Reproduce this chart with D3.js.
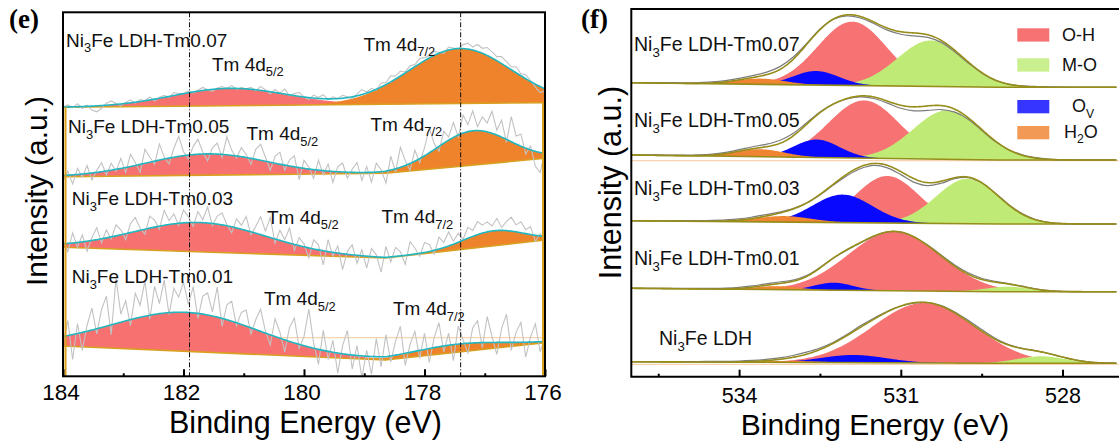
<!DOCTYPE html>
<html>
<head>
<meta charset="utf-8">
<script src="https://cdn.jsdelivr.net/npm/d3@7"></script>
<style>
  html, body { margin: 0; padding: 0; background: #fff; }
  svg { display: block; font-family: "Liberation Sans", Arial, sans-serif; }
</style>
</head>
<body>
<svg id="chart" width="1119" height="445"></svg>
<script>
// ---------------- Panel (e): Tm 4d XPS ----------------
const eNames = ["Ni_3Fe LDH-Tm0.07", "Ni_3Fe LDH-Tm0.05", "Ni_3Fe LDH-Tm0.03", "Ni_3Fe LDH-Tm0.01"];
const eTicks = [184, 182, 180, 178, 176];
const eMinorTicks = [183, 181, 179, 177];
const eRefLines = [181.9, 177.4];
// background anchors (eV) and background level of each stacked spectrum (a.u.)
const eBaseNodes = [184, 178.65, 176];
const eBaseline = [[269, 272, 273.6], [199.6, 203, 218], [129, 118.3, 136.3], [30.3, 16.3, 33.6]];
// fitted Tm 4d5/2 and 4d7/2 components: centre (eV), height (a.u.), sigma (eV)
const e52Center = [181.23, 181.61, 181.73, 181.96];
const e52Height = [17.4, 21.3, 29.3, 39];
const e52Sigma = [0.95, 1.0, 1.1, 1.22];
const e72Center = [177.41, 177.19, 176.85, 177.45];
const e72Height = [55, 34.3, 15, 8];
const e72Sigma = [0.85, 0.6, 0.5, 0.75];
// measured counts, given as residuals from the fit, every 0.08 eV from 184 to 176 eV
const eRawStep = 0.08;
const eResidual = [
  [0, 2, -1, 3, -2, 1, -4, -6, -3, 2, 4, 1, -2,
   1, 3, -1, 2, 0, 3, -2, 1, 2, -1, 3, 1, 0,
   2, -1, 1, 3, 0, -2, 1, 2, 0, 3, -1, 1,
   0, 2, -1, 4, 1, -2, 3, 0, 5, -1, 2, 4, 0,
   -2, 3, 1, 4, -1, 2, 0, 3, 1, -2, 2, 5,
   1, 3, -1, 4, 2, 6, 3, 5, 1, 4, 2, 5, 3,
   2, 4, 1, -2, 3, 1, 0, 4, 6, 3, 7, 5,
   8, 6, 4, 7, 5, 3, 6, 2, 4, 1, -3, -6, -2],
  [-6, 4, -9, 6, -3, 8, -7, 2, 9, -4, 7, -2, 10,
   -5, 12, 3, -8, 14, 5, -3, 16, 2, -6, 9, 20, 4,
   -4, 8, 15, 2, -7, 6, 11, -3, 18, 5, -2, 9,
   3, -6, 10, 16, 4, -8, 7, 12, -5, 6, 11, -12, 8,
   2, -9, 10, -4, 7, -11, 5, 9, -6, 3, 10, -8,
   6, -10, 9, 2, -12, 14, -3, 20, 5, -7, 11, -4, 8,
   25, 6, -5, 12, 3, 15, -2, 18, 7, 20, 4, 14,
   9, 22, 5, 17, -3, 25, 8, 12, -6, 4, -15, -20, 3],
  [4, -8, 10, -5, 7, -10, 3, 12, -4, 8, -2, 11, 5,
   -6, 9, 14, 2, -5, 12, 7, -3, 15, 4, 10, -2, 13,
   6, -4, 11, 3, 16, -2, 8, 12, 1, -6, 9, 4,
   14, -3, 7, 18, 5, 20, -4, 10, 2, 15, -6, 8, 3,
   -10, 9, 5, -14, 12, -4, 7, -16, 3, 10, -8, 6,
   -12, 8, 2, -15, 11, -5, 9, 4, -9, 13, 6, -3, 10,
   7, -4, 12, 5, 14, 3, 9, 1, 11, 6, 13, 8,
   10, 5, 12, 3, 9, 14, 7, 11, 4, 8, -6, 2, -4],
  [-8, 15, -25, 10, -18, 6, 22, -5, 18, 30, -10, 45, 8,
   20, -6, 25, 12, 35, -4, 28, 10, 33, -2, 24, 15, 30,
   8, 26, -5, 18, 22, 4, 30, -8, 15, 20, -3, 12,
   16, -6, 10, 22, 2, -10, 18, 6, -12, 14, 25, -4, 9,
   38, 5, -15, 20, -8, 12, -20, 8, 24, -14, 10, -22,
   6, -18, 18, -10, 22, -6, 14, 28, -12, 8, 20, -8, 16,
   -14, 10, 24, -6, 12, -16, 18, 4, -10, 15, 22, -5,
   26, 6, -12, 14, 28, -8, 10, 20, -15, 5, 18, -10, 4]
];
const ePeakNames = ["Tm 4d_{5/2}", "Tm 4d_{7/2}"];
const eGuideLevel = [38.6];

// ---------------- Panel (f): O 1s XPS ----------------
const fNames = ["Ni_3Fe LDH-Tm0.07", "Ni_3Fe LDH-Tm0.05", "Ni_3Fe LDH-Tm0.03", "Ni_3Fe LDH-Tm0.01", "Ni_3Fe LDH"];
const fTicks = [534, 531, 528];
const fMinorTicks = [535.5, 532.5, 529.5];
const fBaseNodes = [536, 529.2, 527];
const fBaseline = [[294, 289.4, 289.4], [221.7, 216.7, 216.7], [156, 152.7, 152.7], [88.4, 85, 85], [15, 13.4, 13.4]];
const ohCenter = [531.90, 531.68, 531.25, 531.12, 530.57];
const ohHeight = [63.8, 57.7, 47, 59.3, 60];
const ohSigma = [0.64, 0.66, 0.58, 0.85, 0.95];
const moCenter = [530.44, 530.13, 529.76, 529.02, 528.4];
const moHeight = [46, 49, 45, 5, 7];
const moSigma = [0.62, 0.64, 0.58, 0.4, 0.45];
const ovCenter = [532.57, 532.56, 532.08, 532.24, 531.87];
const ovHeight = [14, 18, 28, 7.5, 7.7];
const ovSigma = [0.42, 0.42, 0.55, 0.35, 0.6];
const h2oCenter = [533.6, 533.61, 533.17, 533.29, 533.0];
const h2oHeight = [5.7, 7.5, 6, 3.5, 1.5];
const h2oSigma = [0.45, 0.45, 0.5, 0.4, 0.5];
// measured O 1s counts as residuals from the fit, every 0.25 eV from 536 to 527 eV
const fRawStep = 0.25;
const fResidual = [
  [0, 0.3, 0.5, 0.5, 0.6, 0.8, 1, 1.2, 1.5, 2, 2.5, 2.8, 2.2, 1, 0.5, 0, -1, -1.5, -1.5, -2, -2.5, -3, -2.5, -2, -1.5, -1, -0.5, -0.3, 0, 0.3, 0.5, 0.3, 0.2, 0, 0, 0, 0],
  [0, 0.2, 0.4, 0.5, 0.6, 0.8, 1, 1.2, 1.5, 2, 2.5, 3, 2.5, 1.5, 0.8, 0, -0.5, -1, -1.5, -2, -3, -4, -4.5, -4, -3, -1.5, -1, -0.5, 0, 0.5, 0.5, 0.3, 0, 0, 0, 0, 0],
  [0, 0, 0.2, 0.3, 0.5, 0.6, 0.8, 1, 1.2, 1.5, 1.5, 1, 0.5, 0, -0.5, -1, -1.5, -2, -2, -2.5, -3, -3.5, -3, -2, -1, -0.5, 0, 0.3, 0.5, 0.5, 0.3, 0, 0, 0, 0, 0, 0],
  [0, 0, 0.2, 0.3, 0.4, 0.5, 0.6, 0.8, 1, 1.2, 1.5, 1.5, 1.2, 1, 0.5, 0, -0.5, -0.5, -0.3, 0, 0, 0, 0.5, 1, 1.2, 1.5, 1.2, 0.8, 0.5, 0.3, 0.2, 0, 0, 0, 0, 0, 0],
  [0, 0, 0.2, 0.3, 0.4, 0.5, 0.6, 0.7, 0.8, 1, 1.2, 1.5, 1.8, 2, 1.5, 1, 1, 1.5, 1, 0.5, 0, -0.5, 0, 0.5, 1, 1.5, 1.5, 1, 0.5, 0.3, 0.2, 0, 0, 0, 0, 0, 0]
];
const fLegendNames = ["O-H", "M-O", "O_V", "H_2O"];
const fGuideLevel = [216, 12.4];

// ---------------- styling ----------------
const C = {
  ePink: "#f77171", eOrange: "#ee832c", eFit: "#22b6bf", eBase: "#d9a020", eRaw: "#c2c2c2",
  oh: "#f77272", mo: "#c0ea76", ov: "#0808ff", h2o: "#ef8432",
  legOh: "#f77272", legMo: "#c9ef8e", legOv: "#3535ff", legH2o: "#f29a55",
  fFit: "#968d1b", fRaw: "#7c7c7c", guide: "#f7d3b0"
};

const svg = d3.select("#chart");
const gauss = (E, c, h, s) => h * Math.exp(-((E - c) * (E - c)) / (2 * s * s));
// straight-line background between anchor energies
function background(nodes, vals, E) {
  for (let i = 0; i < nodes.length - 1; i++) {
    const a = nodes[i], b = nodes[i + 1];
    if (E <= a && E >= b) return vals[i] + (vals[i + 1] - vals[i]) * (a - E) / (a - b);
  }
  return E > nodes[0] ? vals[0] : vals[vals.length - 1];
}
// text with "_x" / "_{..}" subscripts
function richText(sel, str, size) {
  const re = /_\{([^}]*)\}|_(.)/g;
  const subSize = size * 0.68, shift = size * 0.3;
  let last = 0, m, shifted = false;
  sel.attr("font-size", size);
  while ((m = re.exec(str))) {
    if (m.index > last) {
      sel.append("tspan").attr("dy", shifted ? -shift : 0).text(str.slice(last, m.index));
      shifted = false;
    }
    sel.append("tspan").attr("font-size", subSize).attr("dy", shifted ? 0 : shift).text(m[1] || m[2]);
    shifted = true;
    last = re.lastIndex;
  }
  if (last < str.length) sel.append("tspan").attr("dy", shifted ? -shift : 0).text(str.slice(last));
}

// ================= Panel (e) =================
const ex = d3.scaleLinear().domain([184, 176]).range([63, 545]);
const ey = d3.scaleLinear().domain([0, 364]).range([376.3, 12.3]);
svg.append("clipPath").attr("id", "eclip").append("rect")
  .attr("x", ex(184)).attr("y", ey(364)).attr("width", ex(176) - ex(184)).attr("height", ey(0) - ey(364));
const eg = svg.append("g").attr("clip-path", "url(#eclip)");
const eGrid = d3.range(0, 401).map(i => 184 - i * 0.02);

eGuideLevel.forEach(v => {
  eg.append("line").attr("x1", ex(184)).attr("x2", ex(176)).attr("y1", ey(v)).attr("y2", ey(v))
    .attr("stroke", C.guide).attr("stroke-width", 1.2);
});

eNames.forEach((name, s) => {
  const base = E => background(eBaseNodes, eBaseline[s], E);
  const p52 = E => gauss(E, e52Center[s], e52Height[s], e52Sigma[s]);
  const p72 = E => gauss(E, e72Center[s], e72Height[s], e72Sigma[s]);
  const comp = (fn, color) => eg.append("path").datum(eGrid)
    .attr("d", d3.area().x(E => ex(E)).y0(E => ey(base(E))).y1(E => ey(base(E) + fn(E))))
    .attr("fill", color);
  comp(p52, C.ePink);
  comp(p72, C.eOrange);
  eg.append("path").datum(eBaseNodes)
    .attr("d", d3.line().x(E => ex(E)).y((E, i) => ey(eBaseline[s][i])))
    .attr("fill", "none").attr("stroke", C.eBase).attr("stroke-width", 1.6);
  const raw = eResidual[s].map((r, i) => {
    const E = 184 - i * eRawStep;
    return [E, base(E) + p52(E) + p72(E) + r];
  });
  eg.append("path").datum(raw)
    .attr("d", d3.line().x(d => ex(d[0])).y(d => ey(d[1])))
    .attr("fill", "none").attr("stroke", C.eRaw).attr("stroke-width", 1.1);
  eg.append("path").datum(eGrid)
    .attr("d", d3.line().x(E => ex(E)).y(E => ey(base(E) + p52(E) + p72(E))))
    .attr("fill", "none").attr("stroke", C.eFit).attr("stroke-width", 1.6);
});

// side edges of the stacked backgrounds
eg.append("line").attr("x1", ex(184) + 2.5).attr("x2", ex(184) + 2.5)
  .attr("y1", ey(eBaseline[0][0])).attr("y2", ey(0))
  .attr("stroke", C.eBase).attr("stroke-width", 2);
eg.append("line").attr("x1", ex(176) - 2).attr("x2", ex(176) - 2)
  .attr("y1", ey(eBaseline[0][2])).attr("y2", ey(0))
  .attr("stroke", C.eBase).attr("stroke-width", 2);

// reference positions
eRefLines.forEach(E => {
  svg.append("line").attr("x1", ex(E)).attr("x2", ex(E)).attr("y1", ey(364)).attr("y2", ey(0))
    .attr("stroke", "#111").attr("stroke-width", 1).attr("stroke-dasharray", "5,2,1,2");
});

// labels
const eNamePos = [[66, 46.7], [68, 133.3], [71.7, 205], [71.7, 283.3]];
const ePeakPos = [
  [[212, 70.5], [363.5, 50.5]],
  [[246.5, 140], [370.5, 130.5]],
  [[267, 223.5], [381.5, 223]],
  [[264, 305], [393, 315]]
];
eNames.forEach((name, s) => {
  richText(svg.append("text").attr("x", eNamePos[s][0]).attr("y", eNamePos[s][1]).attr("fill", "#111"), name, 19);
  ePeakNames.forEach((pk, k) => {
    richText(svg.append("text").attr("x", ePeakPos[s][k][0]).attr("y", ePeakPos[s][k][1]).attr("fill", "#111"), pk, 19);
  });
});

// frame and axis
svg.append("rect").attr("x", ex(184)).attr("y", ey(364)).attr("width", ex(176) - ex(184)).attr("height", ey(0) - ey(364))
  .attr("fill", "none").attr("stroke", "#000").attr("stroke-width", 2);
const eAxisG = svg.append("g").attr("transform", `translate(0,${ey(0)})`)
  .call(d3.axisBottom(ex).tickValues(eTicks).tickSize(-7).tickPadding(8.2).tickFormat(d3.format("d")));
eAxisG.select(".domain").remove();
eAxisG.selectAll("line").attr("stroke", "#000").attr("stroke-width", 2);
eAxisG.selectAll("text").attr("font-size", 22.5).attr("font-family", "Liberation Sans, Arial, sans-serif").attr("fill", "#000").attr("dx", -2.5);
const eMinorG = svg.append("g").attr("transform", `translate(0,${ey(0)})`)
  .call(d3.axisBottom(ex).tickValues(eMinorTicks).tickSize(-3).tickFormat(""));
eMinorG.select(".domain").remove();
eMinorG.selectAll("line").attr("stroke", "#000").attr("stroke-width", 2);

svg.append("text").attr("x", 305.5).attr("y", 432.5).attr("text-anchor", "middle")
  .attr("font-size", 30.5).attr("fill", "#000").text("Binding Energy (eV)");
svg.append("text").attr("transform", "translate(46.7,191) rotate(-90)").attr("text-anchor", "middle")
  .attr("font-size", 30).attr("fill", "#000").text("Intensity (a.u.)");
svg.append("text").attr("x", 9).attr("y", 28).attr("font-family", "Liberation Serif, Times New Roman, serif")
  .attr("font-weight", "bold").attr("font-size", 27).attr("fill", "#000").text("(e)");

// ================= Panel (f) =================
const fx = d3.scaleLinear().domain([536, 527]).range([631.3, 1116.4]);
const fy = d3.scaleLinear().domain([0, 367.7]).range([376.7, 9]);
svg.append("clipPath").attr("id", "fclip").append("rect")
  .attr("x", fx(536)).attr("y", fy(367.7)).attr("width", 1119 - fx(536)).attr("height", fy(0) - fy(367.7));
const fg = svg.append("g").attr("clip-path", "url(#fclip)");
const fGrid = d3.range(0, 451).map(i => 536 - i * 0.02);

fGuideLevel.forEach(v => {
  fg.append("line").attr("x1", fx(536)).attr("x2", 1119).attr("y1", fy(v)).attr("y2", fy(v))
    .attr("stroke", C.guide).attr("stroke-width", 1.2);
});

fNames.forEach((name, s) => {
  const base = E => background(fBaseNodes, fBaseline[s], E);
  const oh = E => gauss(E, ohCenter[s], ohHeight[s], ohSigma[s]);
  const mo = E => gauss(E, moCenter[s], moHeight[s], moSigma[s]);
  const ov = E => gauss(E, ovCenter[s], ovHeight[s], ovSigma[s]);
  const h2o = E => gauss(E, h2oCenter[s], h2oHeight[s], h2oSigma[s]);
  const total = E => base(E) + oh(E) + mo(E) + ov(E) + h2o(E);
  const comp = (fn, color) => fg.append("path").datum(fGrid)
    .attr("d", d3.area().x(E => fx(E)).y0(E => fy(base(E))).y1(E => fy(base(E) + fn(E))))
    .attr("fill", color);
  comp(oh, C.oh);
  comp(mo, C.mo);
  comp(ov, C.ov);
  comp(h2o, C.h2o);
  fg.append("path").datum(fBaseNodes)
    .attr("d", d3.line().x(E => fx(E)).y((E, i) => fy(fBaseline[s][i])))
    .attr("fill", "none").attr("stroke", C.fFit).attr("stroke-width", 1.6);
  const raw = fResidual[s].map((r, i) => {
    const E = 536 - i * fRawStep;
    return [E, total(E) + r];
  });
  fg.append("path").datum(raw)
    .attr("d", d3.line().x(d => fx(d[0])).y(d => fy(d[1])).curve(d3.curveCatmullRom))
    .attr("fill", "none").attr("stroke", C.fRaw).attr("stroke-width", 1.2);
  fg.append("path").datum(fGrid)
    .attr("d", d3.line().x(E => fx(E)).y(E => fy(total(E))))
    .attr("fill", "none").attr("stroke", C.fFit).attr("stroke-width", 1.6);
});

const fNamePos = [[634, 50.7], [634, 126.7], [634, 195], [634, 265], [659, 345]];
fNames.forEach((name, s) => {
  richText(svg.append("text").attr("x", fNamePos[s][0]).attr("y", fNamePos[s][1]).attr("fill", "#111"), name, 19.5);
});

// legend
const legColors = [C.legOh, C.legMo, C.legOv, C.legH2o];
const legTop = [28.3, 58.3, 100, 126];
const legTextPos = [[1062, 40.7], [1062, 70.7], [1072, 112.3], [1064, 137.5]];
fLegendNames.forEach((nm, k) => {
  svg.append("rect").attr("x", 1017.3).attr("y", legTop[k]).attr("width", 32).attr("height", 13.3).attr("fill", legColors[k]);
  richText(svg.append("text").attr("x", legTextPos[k][0]).attr("y", legTextPos[k][1]).attr("fill", "#111"), nm, 18);
});

// frame and axis
svg.append("path").attr("d", `M1119,${fy(367.7)}H${fx(536)}V${fy(0)}H1119`)
  .attr("fill", "none").attr("stroke", "#000").attr("stroke-width", 2);
const fAxisG = svg.append("g").attr("transform", `translate(0,${fy(0)})`)
  .call(d3.axisBottom(fx).tickValues(fTicks).tickSize(-7).tickPadding(10.6).tickFormat(d3.format("d")));
fAxisG.select(".domain").remove();
fAxisG.selectAll("line").attr("stroke", "#000").attr("stroke-width", 2);
fAxisG.selectAll("text").attr("font-size", 21.5).attr("font-family", "Liberation Sans, Arial, sans-serif").attr("fill", "#000");
const fMinorG = svg.append("g").attr("transform", `translate(0,${fy(0)})`)
  .call(d3.axisBottom(fx).tickValues(fMinorTicks).tickSize(-3).tickFormat(""));
fMinorG.select(".domain").remove();
fMinorG.selectAll("line").attr("stroke", "#000").attr("stroke-width", 2);

svg.append("text").attr("x", 875).attr("y", 434.5).attr("text-anchor", "middle")
  .attr("font-size", 30).attr("fill", "#000").text("Binding Energy (eV)");
svg.append("text").attr("transform", "translate(621,182.5) rotate(-90)").attr("text-anchor", "middle")
  .attr("font-size", 30.5).attr("fill", "#000").text("Intensity (a.u.)");
svg.append("text").attr("x", 581).attr("y", 28).attr("font-family", "Liberation Serif, Times New Roman, serif")
  .attr("font-weight", "bold").attr("font-size", 27).attr("fill", "#000").text("(f)");
</script>
</body>
</html>
